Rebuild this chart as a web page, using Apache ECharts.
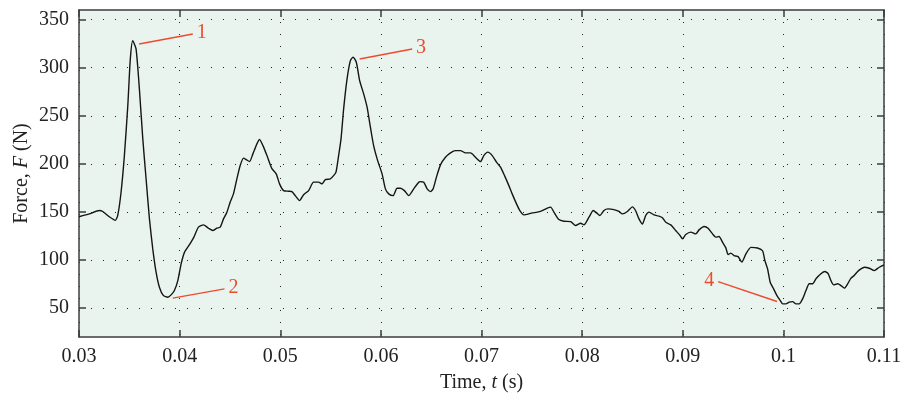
<!DOCTYPE html>
<html>
<head>
<meta charset="utf-8">
<script src="https://cdn.jsdelivr.net/npm/echarts@6/dist/echarts.min.js"></script>
<style>
  html, body { margin: 0; padding: 0; background: #ffffff; }
  #chart { width: 902px; height: 393px; }
</style>
</head>
<body>
<div id="chart"></div>
<script>
// Measured force trace: time (s) and force (N)
const timeS = [
  0.03000, 0.03102, 0.03202, 0.03236, 0.03301, 0.03361, 0.03385, 0.03418, 0.03451, 0.03485,
  0.03510, 0.03534, 0.03567, 0.03600, 0.03634, 0.03667, 0.03700, 0.03733, 0.03766, 0.03799,
  0.03839, 0.03883, 0.03915, 0.03948, 0.03982, 0.04015, 0.04048, 0.04098, 0.04138, 0.04187,
  0.04237, 0.04287, 0.04330, 0.04370, 0.04403, 0.04436, 0.04470, 0.04502, 0.04535, 0.04569,
  0.04602, 0.04635, 0.04662, 0.04695, 0.04728, 0.04768, 0.04794, 0.04828, 0.04868, 0.04917,
  0.04960, 0.04993, 0.05033, 0.05083, 0.05116, 0.05149, 0.05192, 0.05232, 0.05282, 0.05331,
  0.05381, 0.05415, 0.05448, 0.05498, 0.05530, 0.05554, 0.05580, 0.05604, 0.05630, 0.05664,
  0.05697, 0.05723, 0.05756, 0.05789, 0.05829, 0.05863, 0.05896, 0.05928, 0.05968, 0.06012,
  0.06045, 0.06078, 0.06121, 0.06161, 0.06194, 0.06234, 0.06277, 0.06326, 0.06376, 0.06393,
  0.06426, 0.06460, 0.06493, 0.06519, 0.06552, 0.06592, 0.06642, 0.06692, 0.06741, 0.06791,
  0.06841, 0.06891, 0.06940, 0.06990, 0.07023, 0.07063, 0.07107, 0.07149, 0.07189, 0.07229,
  0.07272, 0.07305, 0.07348, 0.07381, 0.07421, 0.07471, 0.07504, 0.07554, 0.07604, 0.07654,
  0.07687, 0.07720, 0.07769, 0.07819, 0.07886, 0.07935, 0.07985, 0.08018, 0.08068, 0.08111,
  0.08144, 0.08177, 0.08217, 0.08257, 0.08316, 0.08366, 0.08400, 0.08450, 0.08500, 0.08533,
  0.08565, 0.08599, 0.08632, 0.08665, 0.08715, 0.08764, 0.08798, 0.08831, 0.08881, 0.08930,
  0.08973, 0.08997, 0.09030, 0.09080, 0.09130, 0.09162, 0.09212, 0.09252, 0.09296, 0.09328,
  0.09361, 0.09395, 0.09428, 0.09451, 0.09478, 0.09510, 0.09550, 0.09587, 0.09627, 0.09677,
  0.09743, 0.09793, 0.09816, 0.09843, 0.09869, 0.09903, 0.09936, 0.09969, 0.09993, 0.10025,
  0.10058, 0.10092, 0.10125, 0.10157, 0.10191, 0.10224, 0.10257, 0.10291, 0.10324, 0.10373,
  0.10413, 0.10446, 0.10473, 0.10500, 0.10540, 0.10572, 0.10606, 0.10639, 0.10672, 0.10704,
  0.10738, 0.10771, 0.10804, 0.10853, 0.10903, 0.10953, 0.11000
];
const forceN = [
  145.0, 148.0, 151.5, 150.5, 145.0, 141.3, 146.4, 170.5, 208.6, 260.6,
  309.0, 328.0, 319.5, 278.0, 226.0, 184.0, 142.8, 111.6, 87.4, 71.8,
  63.0, 61.4, 63.8, 68.3, 78.6, 96.0, 108.0, 116.0, 123.0, 134.2,
  136.6, 133.1, 130.7, 133.1, 134.2, 142.8, 149.8, 160.2, 168.8, 184.4,
  198.3, 206.0, 204.5, 202.4, 210.4, 220.8, 225.3, 219.0, 208.6, 195.0,
  189.6, 179.2, 172.2, 171.6, 171.2, 167.0, 161.8, 168.0, 172.2, 181.0,
  181.0, 179.2, 183.7, 184.4, 187.8, 191.4, 208.6, 226.0, 257.2, 288.4,
  307.4, 311.0, 305.7, 286.6, 272.8, 258.9, 238.1, 219.0, 203.4, 189.6,
  174.0, 168.8, 167.0, 174.7, 174.7, 172.2, 167.0, 174.0, 181.0, 181.6,
  181.0, 174.0, 171.2, 174.0, 186.2, 199.0, 206.9, 211.4, 213.8, 213.8,
  211.4, 211.4, 206.9, 202.4, 208.6, 212.2, 208.6, 201.8, 196.6, 187.8,
  177.4, 168.8, 158.4, 151.5, 147.0, 148.0, 149.0, 149.8, 151.5, 154.0,
  155.0, 149.8, 142.1, 140.4, 140.0, 135.9, 138.3, 136.6, 144.6, 151.5,
  149.0, 146.3, 151.5, 153.2, 152.5, 150.5, 148.0, 150.5, 155.3, 151.0,
  142.8, 137.5, 146.3, 149.8, 147.0, 145.6, 143.9, 139.4, 136.6, 130.7,
  125.5, 122.0, 126.5, 129.0, 127.2, 131.4, 134.9, 133.1, 127.2, 123.8,
  124.5, 118.6, 112.7, 105.7, 107.2, 104.7, 103.6, 97.8, 106.2, 113.2,
  112.5, 109.7, 99.5, 90.8, 77.0, 70.0, 63.0, 57.9, 54.4, 54.4,
  56.2, 56.8, 54.4, 54.4, 59.6, 68.3, 75.3, 75.3, 80.5, 85.7,
  88.1, 85.7, 78.6, 74.2, 75.3, 73.5, 70.8, 75.3, 81.2, 83.9,
  88.1, 90.8, 92.5, 91.5, 89.0, 92.5, 95.0
];

// Axis ticks
const xTicks = [0.03, 0.04, 0.05, 0.06, 0.07, 0.08, 0.09, 0.10, 0.11];
const yTicks = [50, 100, 150, 200, 250, 300, 350];

// Numbered callouts: leader line from the curve [t, F] to the label side [t, F]
const calloutNames = ['1', '2', '3', '4'];
const calloutFrom = [[0.03597, 324.7], [0.03932, 60.4], [0.05789, 309.1], [0.09937, 56.9]];
const calloutTo   = [[0.04131, 335.1], [0.04446, 70.1], [0.06311, 319.5], [0.09351, 77.6]];

const serif = '"Liberation Serif", "DejaVu Serif", serif';
const textColor = '#222222';
const frameColor = '#3c3c3c';
const calloutColor = '#ee4a2e';
const fontSize = 20;

const chart = echarts.init(document.getElementById('chart'));

const dottedGrid = { show: true, lineStyle: { color: '#222', width: 1, type: [1, 11] } };
const nameStyle = {
  fontFamily: serif, fontSize: fontSize, color: textColor,
  rich: { i: { fontFamily: serif, fontSize: fontSize, fontStyle: 'italic', color: textColor } }
};
const frameLine = { show: true, onZero: false, lineStyle: { color: frameColor, width: 1.5 } };

chart.setOption({
  animation: false,
  backgroundColor: '#ffffff',
  grid: {
    left: 79, right: 18, top: 10, bottom: 56,
    outerBoundsMode: 'none', containLabel: false,
    show: true, backgroundColor: '#eaf4ee', borderWidth: 0
  },
  xAxis: [{
    type: 'value', min: 0.03, max: 0.11, interval: 0.01,
    position: 'bottom',
    name: 'Time, {i|t} (s)', nameLocation: 'middle', nameGap: 36, nameMoveOverlap: false,
    nameTextStyle: nameStyle,
    axisLine: frameLine,
    axisTick: { show: true, inside: true, length: 7, customValues: xTicks, lineStyle: { color: frameColor, width: 1.5 } },
    axisLabel: {
      fontFamily: serif, fontSize: fontSize, color: textColor, margin: 10, customValues: xTicks,
      formatter: v => String(parseFloat(v.toFixed(2)))
    },
    splitLine: dottedGrid
  }, {
    type: 'value', min: 0.03, max: 0.11, interval: 0.01,
    position: 'top',
    axisLine: frameLine,
    axisTick: { show: true, inside: true, length: 7, customValues: xTicks, lineStyle: { color: frameColor, width: 1.5 } },
    axisLabel: { show: false },
    splitLine: { show: false }
  }],
  yAxis: [{
    type: 'value', min: 20, max: 360,
    position: 'left',
    name: 'Force, {i|F} (N)', nameLocation: 'middle', nameGap: 47, nameRotate: 90, nameMoveOverlap: false,
    nameTextStyle: nameStyle,
    axisLine: frameLine,
    axisTick: { show: true, inside: true, length: 7, customValues: yTicks, lineStyle: { color: frameColor, width: 1.5 } },
    axisLabel: { fontFamily: serif, fontSize: fontSize, color: textColor, margin: 10, customValues: yTicks },
    splitLine: dottedGrid
  }, {
    type: 'value', min: 20, max: 360,
    position: 'right',
    axisLine: frameLine,
    axisTick: { show: true, inside: true, length: 7, customValues: yTicks, lineStyle: { color: frameColor, width: 1.5 } },
    axisLabel: { show: false },
    splitLine: { show: false }
  }],
  series: [{
    type: 'line',
    data: timeS.map((t, i) => [t, forceN[i]]),
    showSymbol: false,
    symbol: 'none',
    smooth: 0.2,
    lineStyle: { color: '#151515', width: 1.4 },
    markLine: {
      silent: true,
      symbol: ['none', 'none'],
      lineStyle: { color: calloutColor, width: 1.4, type: 'solid' },
      label: {
        show: true, position: 'end', distance: 4,
        fontFamily: serif, fontSize: fontSize, color: calloutColor
      },
      data: calloutNames.map((name, i) => [
        { coord: calloutFrom[i], name: name, label: { formatter: name } },
        { coord: calloutTo[i] }
      ])
    }
  }]
});
</script>
</body>
</html>
